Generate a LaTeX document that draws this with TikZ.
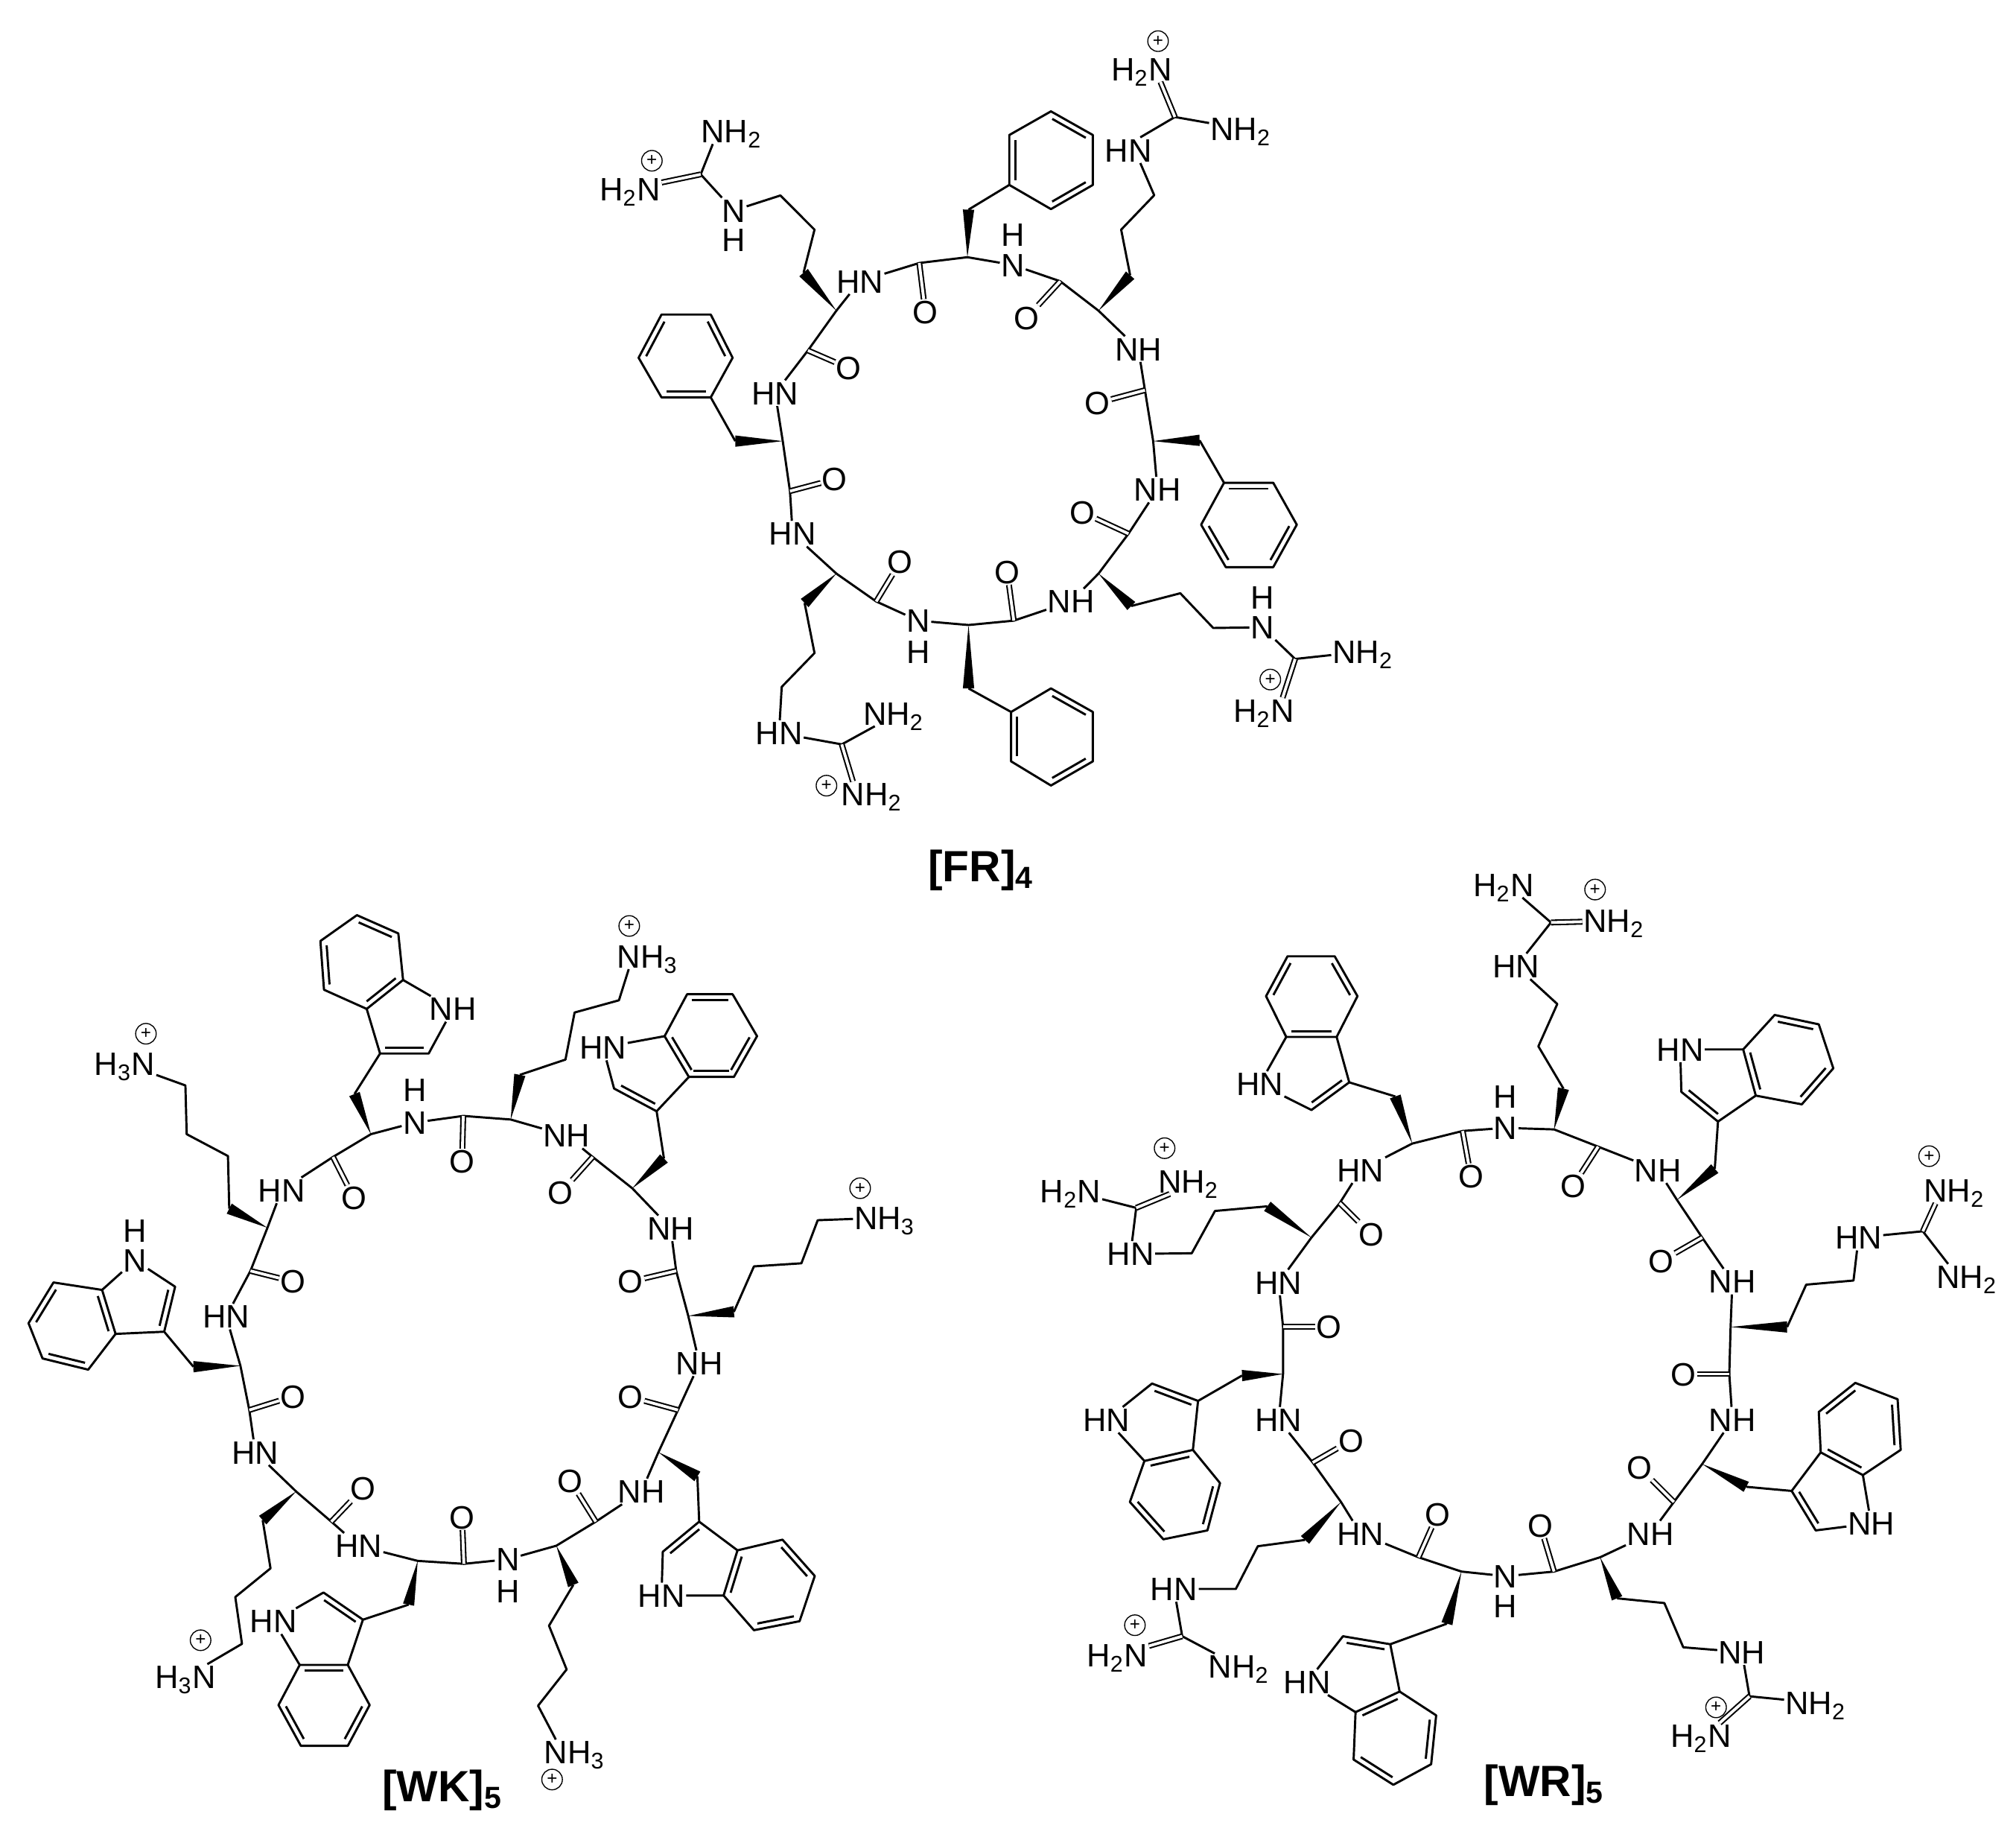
\documentclass[tikz,border=0pt]{standalone}
\usepackage{fontspec}
\setmainfont{Liberation Sans}
\usetikzlibrary{calc}
\tikzset{%
    atom/.style={inner sep=0.3pt,font=\fontsize{12.6}{12.6}\selectfont,text height=9pt,text depth=0pt},
    bond/.style={line width=0.85pt,line join=round},
    dbond/.style={line width=0.6pt,double,double distance=1.1pt},
    chg/.style={circle,draw,line width=0.4pt,inner sep=0pt,minimum size=8pt,font=\fontsize{7}{7}\selectfont},
    title/.style={inner sep=0pt,font=\bfseries\fontsize{17}{17}\selectfont},
}
\newcommand{\rdbl}[2]{\draw [bond] ($(#1)!.1!(#2)!2.3pt!-90:(#2)$) -- ($(#2)!.1!(#1)!2.3pt!90:(#1)$);}
\newcommand{\wdg}[2]{\fill (#1) -- ($(#2)!2.2pt!90:(#1)$) -- ($(#2)!2.2pt!-90:(#1)$) -- cycle;}
\newcommand{\hexring}[7]{%
    \coordinate (#1a) at (#2);
    \coordinate (#1b) at (#3);
    \coordinate (#1c) at (#4);
    \coordinate (#1d) at (#5);
    \coordinate (#1e) at (#6);
    \coordinate (#1f) at (#7);
    \draw [bond] (#1a) -- (#1b) -- (#1c) -- (#1d) -- (#1e) -- (#1f) -- cycle;
    \rdbl{#1a}{#1b} \rdbl{#1c}{#1d} \rdbl{#1e}{#1f}
}
\newcommand{\sbs}[1]{\textsubscript{#1}}
\begin{document}
\begin{tikzpicture}[x=0.5pt,y=-0.5pt]
\useasboundingbox (0,0) rectangle (1568,1428);

% [FR]4
\foreach \name/\X/\Y in {a1/650.5/241.6,c1/715/204.5,a2/752.4/200,c2/824.6/218.7,a3/854.4/241.6,c3/890.5/303.4,a4/896.9/343,c4/877.7/415,a5/854.4/446,c5/788.5/482.6,a6/753.3/486,c6/681.5/467.7,a7/650.5/446,c7/614.4/381.9,a8/608.8/343,c8/628.4/272.5}
    \coordinate (f\name) at (\X,\Y);
\node [atom] (fn1) at (668.7,218.7) {HN};
\node [atom] (fn2) at (787.7,206) {N};
\node [atom] (fh2) at (787.7,182.5) {H};
\node [atom] (fn3) at (885.4,271.4) {NH};
\node [atom] (fn4) at (900.2,380.7) {NH};
\node [atom] (fn5) at (833,467.7) {NH};
\node [atom] (fn6) at (714.2,482.6) {N};
\node [atom] (fh6) at (714.2,506.7) {H};
\node [atom] (fn7) at (616.5,415) {HN};
\node [atom] (fn8) at (602.9,305.7) {HN};
\draw [bond] (fa1) -- (fn1) -- (fc1) -- (fa2) -- (fn2) -- (fc2) -- (fa3) -- (fn3) -- (fc3) -- (fa4) -- (fn4) -- (fc4) -- (fa5) -- (fn5) -- (fc5) -- (fa6) -- (fn6) -- (fc6) -- (fa7) -- (fn7) -- (fc7) -- (fa8) -- (fn8) -- (fc8) -- (fa1);
\node [atom] (fo1) at (719.7,242.7) {O};
\node [atom] (fo2) at (798.3,247.3) {O};
\node [atom] (fo3) at (853.5,313.3) {O};
\node [atom] (fo4) at (841.6,398.3) {O};
\node [atom] (fo5) at (783.4,444.8) {O};
\node [atom] (fo6) at (700.2,436.8) {O};
\node [atom] (fo7) at (649.2,372.7) {O};
\node [atom] (fo8) at (660.2,286.3) {O};
\foreach \i in {1,...,8}
    \draw [dbond] (fc\i) -- (fo\i);
% phenyl arms
\hexring{fpa}{785,143.8}{785,105}{817.4,86.6}{850,105}{850,143.8}{817.4,162.6}
\hexring{fpb}{952,375.4}{990.3,375.4}{1008.6,408}{990.3,441}{953.4,441}{934.2,408}
\hexring{fpc}{786.4,592}{786.4,553.6}{817.4,535.3}{850,553.6}{850,592}{817.4,610.8}
\hexring{fpd}{552.8,309}{514.5,309}{496.7,278.2}{514.5,244.6}{552.8,244.6}{569.8,278.2}
\coordinate (fb2) at (753.3,163);
\coordinate (fb4) at (933,342.4);
\coordinate (fb6) at (753.3,535.3);
\coordinate (fb8) at (571.9,343);
\wdg{fa2}{fb2} \wdg{fa4}{fb4} \wdg{fa6}{fb6} \wdg{fa8}{fb8}
\draw [bond] (fb2) -- (fpaa);
\draw [bond] (fb4) -- (fpba);
\draw [bond] (fb6) -- (fpcb);
\draw [bond] (fb8) -- (fpda);
% arginine arms
\coordinate (fs1) at (625,212);
\coordinate (fs2) at (633.5,178.6);
\coordinate (fs3) at (607,152);
\coordinate (fg1) at (545,135.6);
\node [atom] (fm1) at (570.6,163.7) {N};
\node [atom] (fh7) at (570.6,186.6) {H};
\node [atom] (fu1) at (569,102) {NH\sbs{2}};
\node [atom] (fv1) at (490,147) {H\sbs{2}N};
\node [chg] (fq1) at (507,125) {+};
\wdg{fa1}{fs1}
\draw [bond] (fs1) -- (fs2) -- (fs3) -- (fm1) -- (fg1) -- ([xshift=5pt]fu1.south west);
\draw [dbond] (fg1) -- (fv1);
\coordinate (ft1) at (879,214);
\coordinate (ft2) at (872,178.6);
\coordinate (ft3) at (897.7,151.8);
\coordinate (fg2) at (913.8,91);
\node [atom] (fm2) at (877.7,116.8) {HN};
\node [atom] (fu2) at (965,100) {NH\sbs{2}};
\node [atom] (fv2) at (888,53.8) {H\sbs{2}N};
\node [chg] (fq2) at (900.7,32) {+};
\wdg{fa3}{ft1}
\draw [bond] (ft1) -- (ft2) -- (ft3) -- ([xshift=-5pt]fm2.south east);
\draw [bond] ([xshift=-5pt]fm2.north east) -- (fg2) -- (fu2);
\draw [dbond] (fg2) -- ([xshift=-5pt]fv2.south east);
\coordinate (fw1) at (879.9,471.2);
\coordinate (fw2) at (918,461.3);
\coordinate (fw3) at (943.6,488.3);
\coordinate (fg3) at (1007.3,512.4);
\node [atom] (fm3) at (981.8,487.8) {N};
\node [atom] (fh8) at (981.8,464.3) {H};
\node [atom] (fu3) at (1060,506.7) {NH\sbs{2}};
\node [atom] (fv3) at (983,552.5) {H\sbs{2}N};
\node [chg] (fq3) at (988,528.4) {+};
\wdg{fa5}{fw1}
\draw [bond] (fw1) -- (fw2) -- (fw3) -- (fm3) -- (fg3) -- (fu3);
\draw [dbond] (fg3) -- ([xshift=-5pt]fv3.north east);
\coordinate (fx1) at (625.8,468.9);
\coordinate (fx2) at (633.5,507.8);
\coordinate (fx3) at (608,534.1);
\coordinate (fg4) at (654.7,578.8);
\node [atom] (fm4) at (605.9,570) {HN};
\node [atom] (fu4) at (695,554.7) {NH\sbs{2}};
\node [atom] (fv4) at (678,617.7) {NH\sbs{2}};
\node [chg] (fq4) at (642.8,610.9) {+};
\wdg{fa7}{fx1}
\draw [bond] (fx1) -- (fx2) -- (fx3) -- (fm4) -- (fg4) -- ([xshift=5pt]fu4.south west);
\draw [dbond] (fg4) -- ([xshift=5pt]fv4.north west);
\node [title] (ftitle) at (763,677) {[FR]\sbs{4}};

% [WK]5
\foreach \name/\X/\Y in {a1/208/954.7,c1/259/899.6,a2/288.5/881.9,c2/360.3/867.7,a3/397.2/870.5,c3/461/899.6,a4/491.8/924,c4/525.9/988.2,a5/535.3/1023.2,c5/527.3/1096.4,a6/512.1/1129.2,c6/463.4/1183.2,a7/432.7/1201.9,c7/360.8/1216,a8/324.9/1213.7,c8/257.7/1183.2,a9/230.3/1159.7,c9/193.9/1096.4,a10/187/1062,c10/194.8/988.2}
    \coordinate (k\name) at (\X,\Y);
\node [atom] (kn1) at (219,925.6) {HN};
\node [atom] (kn2) at (322.5,872.9) {N};
\node [atom] (kh2) at (322.5,847.6) {H};
\node [atom] (kn3) at (440.7,883) {NH};
\node [atom] (kn4) at (521.6,955.1) {NH};
\node [atom] (kn5) at (544,1060) {NH};
\node [atom] (kn6) at (498.9,1159.7) {NH};
\node [atom] (kn7) at (394.9,1212.5) {N};
\node [atom] (kh7) at (394.9,1237.1) {H};
\node [atom] (kn8) at (279,1202) {HN};
\node [atom] (kn9) at (198.6,1129.2) {HN};
\node [atom] (kn10) at (175.9,1023.7) {HN};
\draw [bond] (ka1) -- (kn1) -- (kc1) -- (ka2) -- (kn2) -- (kc2) -- (ka3) -- (kn3) -- (kc3) -- (ka4) -- (kn4) -- (kc4) -- (ka5) -- (kn5) -- (kc5) -- (ka6) -- (kn6) -- (kc6) -- (ka7) -- (kn7) -- (kc7) -- (ka8) -- (kn8) -- (kc8) -- (ka9) -- (kn9) -- (kc9) -- (ka10) -- (kn10) -- (kc10) -- (ka1);
\node [atom] (ko1) at (275.2,931.5) {O};
\node [atom] (ko2) at (359.4,903.1) {O};
\node [atom] (ko3) at (436,927.5) {O};
\node [atom] (ko4) at (490.4,996.5) {O};
\node [atom] (ko5) at (490.4,1086.3) {O};
\node [atom] (ko6) at (443.6,1151.5) {O};
\node [atom] (ko7) at (359.4,1179.6) {O};
\node [atom] (ko8) at (282.3,1157.4) {O};
\node [atom] (ko9) at (227.9,1085.8) {O};
\node [atom] (ko10) at (227.9,996.5) {O};
\foreach \i in {1,...,10}
    \draw [dbond] (kc\i) -- (ko\i);
% indole arms
\hexring{kia}{313.5,762}{285.2,784.5}{252,769.6}{249.2,731.7}{277.6,711.6}{309.8,725.8}
\coordinate (kb2) at (275.7,850.7);
\coordinate (kt2) at (295.6,819.2);
\coordinate (ks2) at (333.4,819.2);
\node [atom] (km2) at (352.3,784.5) {NH};
\wdg{ka2}{kb2}
\draw [bond] (kb2) -- (kt2) -- (kiab) (kt2) -- (ks2) -- (km2) -- (kiaa);
\rdbl{ks2}{kt2}
\hexring{kib}{535.8,837.4}{516.9,805.7}{534.4,773.1}{569.8,773.1}{588.8,805.7}{570.8,837.4}
\rdbl{kibf}{kiba}
\coordinate (kb4) at (516.4,900.8);
\coordinate (kt4) at (510.7,864.1);
\coordinate (ks4) at (477.6,846.4);
\node [atom] (km4) at (469,814.5) {HN};
\wdg{ka4}{kb4}
\draw [bond] (kb4) -- (kt4) -- (kiba) (kt4) -- (ks4) -- (km4) -- (kibb);
\rdbl{kt4}{ks4}
\hexring{kic}{562.8,1240.6}{573.6,1205.5}{608.6,1197.2}{633.7,1225.4}{621.9,1260.6}{586.4,1267.6}
\coordinate (kb6) at (542.4,1148);
\coordinate (kt6) at (543.8,1183.2);
\coordinate (ks6) at (515.5,1206.6);
\node [atom] (km6) at (514.5,1240.6) {HN};
\wdg{ka6}{kb6}
\draw [bond] (kb6) -- (kt6) -- (kicb) (kt6) -- (ks6) -- (km6) -- (kica);
\rdbl{ks6}{kt6}
\hexring{kid}{233.1,1294.6}{270.5,1294.6}{287.5,1325.8}{270.5,1357.5}{234,1357.5}{216.6,1325.8}
\coordinate (kb8) at (317.8,1247.7);
\coordinate (kt8) at (282.3,1259.4);
\coordinate (ks8) at (251.6,1238.3);
\node [atom] (km8) at (212.8,1260.6) {HN};
\wdg{ka8}{kb8}
\draw [bond] (kb8) -- (kt8) -- (kidb) (kt8) -- (ks8) -- (km8) -- (kida);
\rdbl{ks8}{kt8}
\hexring{kie}{79.4,1003}{89.9,1037.2}{68.6,1065}{33.1,1056.3}{22.2,1028.9}{41.6,997.2}
\coordinate (kb10) at (150.4,1062.7);
\coordinate (kt10) at (127.7,1035.5);
\coordinate (ks10) at (136.2,1000.5);
\node [atom] (km10) at (105,980) {N};
\node [atom] (kh10) at (105,957) {H};
\wdg{ka10}{kb10}
\draw [bond] (kb10) -- (kt10) -- (kieb) (kt10) -- (ks10) -- (km10) -- (kiea);
\rdbl{ks10}{kt10}
% lysine arms
\coordinate (kl1) at (178.3,939.8);
\node [atom] (ku1) at (97,827) {H\sbs{3}N};
\node [chg] (kq1) at (113.5,803.8) {+};
\wdg{ka1}{kl1}
\draw [bond] (kl1) -- (177.3,898.9) coordinate (kl2) -- (145.2,881.9) coordinate (kl3) -- (144.2,844) coordinate (kl4) -- (ku1);
\coordinate (kr1) at (404.3,835.8);
\node [atom] (ku3) at (503.6,743.6) {NH\sbs{3}};
\node [chg] (kq3) at (489.4,720) {+};
\wdg{ka3}{kr1}
\draw [bond] (kr1) -- (439.8,823.9) coordinate (kr2) -- (446.9,787.3) coordinate (kr3) -- (481.4,777.8) coordinate (kr4) -- ([xshift=5pt]ku3.south west);
\coordinate (kv1) at (570.8,1020);
\node [atom] (ku5) at (688,946.9) {NH\sbs{3}};
\node [chg] (kq5) at (669,923.9) {+};
\wdg{ka5}{kv1}
\draw [bond] (kv1) -- (586.4,984.7) coordinate (kv2) -- (623.3,982.3) coordinate (kv3) -- (636,948.8) coordinate (kv4) -- (ku5);
\coordinate (kw1) at (445.9,1232.4);
\node [atom] (ku7) at (446.9,1362.6) {NH\sbs{3}};
\node [chg] (kq7) at (429.4,1383.7) {+};
\wdg{ka7}{kw1}
\draw [bond] (kw1) -- (427,1264.1) coordinate (kw2) -- (440.7,1298.1) coordinate (kw3) -- (418.5,1326.3) coordinate (kw4) -- ([xshift=5pt]ku7.north west);
\coordinate (kx1) at (204.3,1182);
\node [atom] (ku9) at (144.2,1304) {H\sbs{3}N};
\node [chg] (kq9) at (156,1275.4) {+};
\wdg{ka9}{kx1}
\draw [bond] (kx1) -- (210.4,1219.5) coordinate (kx2) -- (183,1241.8) coordinate (kx3) -- (188.2,1278.2) coordinate (kx4) -- (ku9);
\node [title] (ktitle) at (344,1392) {[WK]\sbs{5}};

% [WR]5
\foreach \name/\X/\Y in {a1/1208.7/878.2,c1/1137.6/879.4,a2/1098.4/889.2,c2/1042/935.5,a3/1020/962.3,c3/997.9/1031.8,a4/997.9/1068.4,c4/1021/1137.2,a5/1043/1167.9,c5/1103.3/1210.9,a6/1136.7/1222,c6/1208.7/1222,a7/1244.5/1210.9,c7/1301.9/1167.9,a8/1323.9/1138.4,c8/1345/1068.4,a9/1346/1031.8,c9/1323.9/962.3,a10/1304.3/933,c10/1243/891.6}
    \coordinate (r\name) at (\X,\Y);
\node [atom] (rn1) at (1171,877) {N};
\node [atom] (rh1) at (1171,852.6) {H};
\node [atom] (rn2) at (1058.2,909.9) {HN};
\node [atom] (rn3) at (994.5,997.2) {HN};
\node [atom] (rn4) at (994.5,1104) {HN};
\node [atom] (rn5) at (1058.2,1192.5) {HN};
\node [atom] (rn6) at (1171,1225.6) {N};
\node [atom] (rh6) at (1171,1249) {H};
\node [atom] (rn7) at (1283.7,1192.5) {NH};
\node [atom] (rn8) at (1347.4,1104) {NH};
\node [atom] (rn9) at (1347.4,996.5) {NH};
\node [atom] (rn10) at (1289.6,909.9) {NH};
\draw [bond] (ra1) -- (rn1) -- (rc1) -- (ra2) -- (rn2) -- (rc2) -- (ra3) -- (rn3) -- (rc3) -- (ra4) -- (rn4) -- (rc4) -- (ra5) -- (rn5) -- (rc5) -- (ra6) -- (rn6) -- (rc6) -- (ra7) -- (rn7) -- (rc7) -- (ra8) -- (rn8) -- (rc8) -- (ra9) -- (rn9) -- (rc9) -- (ra10) -- (rn10) -- (rc10) -- (ra1);
\node [atom] (ro1) at (1144,914.8) {O};
\node [atom] (ro2) at (1066.6,959.9) {O};
\node [atom] (ro3) at (1033.7,1031.8) {O};
\node [atom] (ro4) at (1050.9,1120) {O};
\node [atom] (ro5) at (1118,1177.7) {O};
\node [atom] (ro6) at (1198,1186.3) {O};
\node [atom] (ro7) at (1274.9,1140.9) {O};
\node [atom] (ro8) at (1309.2,1068.4) {O};
\node [atom] (ro9) at (1292,980.6) {O};
\node [atom] (ro10) at (1223.4,922.1) {O};
\foreach \i in {1,...,10}
    \draw [dbond] (rc\i) -- (ro\i);
% indole arms
\hexring{ria}{1039.6,806.3}{1000.4,806.3}{984.7,774.6}{1001.4,743.6}{1038.1,743.6}{1055.8,774.6}
\coordinate (rb2) at (1085.2,852.6);
\coordinate (rt2) at (1049.4,841.6);
\coordinate (rs2) at (1020,863.1);
\node [atom] (rm2) at (979.8,842.9) {HN};
\wdg{ra2}{rb2}
\draw [bond] (rb2) -- (rt2) -- (riaa) (rt2) -- (rs2) -- (rm2) -- (riab);
\rdbl{rt2}{rs2}
\hexring{rib}{1365.6,851.9}{1355.8,816}{1380.3,789.2}{1414.6,796.5}{1425.9,830.7}{1401.4,858.7}
\coordinate (rb10) at (1333.7,908.7);
\coordinate (rt10) at (1336.2,872.1);
\coordinate (rs10) at (1307.7,849);
\node [atom] (rm10) at (1306.8,816) {HN};
\wdg{ra10}{rb10}
\draw [bond] (rb10) -- (rt10) -- (riba) (rt10) -- (rs10) -- (rm10) -- (ribb);
\rdbl{rt10}{rs10}
\hexring{ric}{890.1,1136}{927.8,1127.4}{948.9,1153.2}{939.1,1190}{904.8,1196.9}{878.8,1167.9}
\coordinate (rb4) at (966,1069.6);
\coordinate (rt4) at (931.8,1089.3);
\coordinate (rs4) at (896,1075.8);
\node [atom] (rm4) at (860.7,1104) {HN};
\wdg{ra4}{rb4}
\draw [bond] (rb4) -- (rt4) -- (ricb) (rt4) -- (rs4) -- (rm4) -- (rica);
\rdbl{rs4}{rt4}
\hexring{rid}{1054.3,1331.3}{1088.6,1315.3}{1117,1333.8}{1113.1,1371.8}{1083.7,1387.8}{1052.8,1368.2}
\coordinate (rb6) at (1125.4,1262.5);
\coordinate (rt6) at (1081.3,1278.5);
\coordinate (rs6) at (1044.5,1272.3);
\node [atom] (rm6) at (1016.6,1308) {HN};
\wdg{ra6}{rb6}
\draw [bond] (rb6) -- (rt6) -- (ridb) (rt6) -- (rs6) -- (rm6) -- (rida);
\rdbl{rs6}{rt6}
\hexring{rie}{1448.9,1147}{1416.1,1129.3}{1414.6,1097.9}{1443,1075.3}{1475.9,1088}{1478.3,1127.4}
\coordinate (rb8) at (1358.2,1156.1);
\coordinate (rt8) at (1393.5,1159.3);
\coordinate (rs8) at (1412.2,1190);
\node [atom] (rm8) at (1455.3,1184.6) {NH};
\wdg{ra8}{rb8}
\draw [bond] (rb8) -- (rt8) -- (rieb) (rt8) -- (rs8) -- (rm8) -- (riea);
\rdbl{rs8}{rt8}
% arginine arms
\coordinate (rg1) at (1206.3,717.3);
\node [atom] (rz1) at (1179.3,751.4) {HN};
\node [atom] (ru1) at (1169.5,688) {H\sbs{2}N};
\node [atom] (rv1) at (1255.3,716.1) {NH\sbs{2}};
\node [chg] (rq1) at (1240.6,691.7) {+};
\wdg{ra1}{1216,846.5}
\draw [bond] (1216,846.5) coordinate (rj1) -- (1196.5,813.6) coordinate (rj2) -- (1211.2,780.7) coordinate (rj3) -- (rz1) -- (rg1) -- ([xshift=-5pt]ru1.south east);
\draw [dbond] (rg1) -- (rv1);
\coordinate (rg3) at (883.7,939.2);
\node [atom] (rz3) at (879.3,975) {HN};
\node [atom] (ru3) at (832.7,926.2) {H\sbs{2}N};
\node [atom] (rv3) at (924.4,918.4) {NH\sbs{2}};
\node [chg] (rq3) at (905.8,892.8) {+};
\wdg{ra3}{985.7,938}
\draw [bond] (985.7,938) coordinate (rk1) -- (945,941.6) coordinate (rk2) -- (926.9,974.5) coordinate (rk3) -- (rz3) -- (rg3) -- (ru3);
\draw [dbond] (rg3) -- ([xshift=5pt]rv3.south west);
\coordinate (rg5) at (919.5,1272.3);
\node [atom] (rz5) at (913.1,1235.5) {HN};
\node [atom] (ru5) at (963.6,1295.7) {NH\sbs{2}};
\node [atom] (rv5) at (869,1287) {H\sbs{2}N};
\node [chg] (rq5) at (882.7,1263.7) {+};
\wdg{ra5}{1015,1197.4}
\draw [bond] (1015,1197.4) coordinate (rl1) -- (978.3,1202.3) coordinate (rl2) -- (961.2,1235.5) coordinate (rl3) -- (rz5) -- (rg5) -- (ru5);
\draw [dbond] (rg5) -- (rv5);
\coordinate (rg7) at (1360.7,1319);
\node [atom] (rz7) at (1354.8,1284.6) {NH};
\node [atom] (ru7) at (1412.2,1324) {NH\sbs{2}};
\node [atom] (rv7) at (1322.9,1349.7) {H\sbs{2}N};
\node [chg] (rq7) at (1334.7,1327.6) {+};
\wdg{ra7}{1257.7,1242.8}
\draw [bond] (1257.7,1242.8) coordinate (rp1) -- (1294.5,1246.5) coordinate (rp2) -- (1309.2,1280.9) coordinate (rp3) -- (rz7) -- (rg7) -- (ru7);
\draw [dbond] (rg7) -- ([xshift=-5pt]rv7.north east);
\coordinate (rg9) at (1495.5,957.4);
\node [atom] (rz9) at (1445.5,962.3) {HN};
\node [atom] (ru9) at (1529.8,992.8) {NH\sbs{2}};
\node [atom] (rv9) at (1520,925.7) {NH\sbs{2}};
\node [chg] (rq9) at (1500.4,899) {+};
\wdg{ra9}{1390,1031.8}
\draw [bond] (1390,1031.8) coordinate (rr1) -- (1404.8,998.9) coordinate (rr2) -- (1441.6,995.7) coordinate (rr3) -- (rz9) -- (rg9) -- ([xshift=5pt]ru9.north west);
\draw [dbond] (rg9) -- ([xshift=5pt]rv9.south west);
\node [title] (rtitle) at (1201,1387.8) {[WR]\sbs{5}};
\end{tikzpicture}
\end{document}
